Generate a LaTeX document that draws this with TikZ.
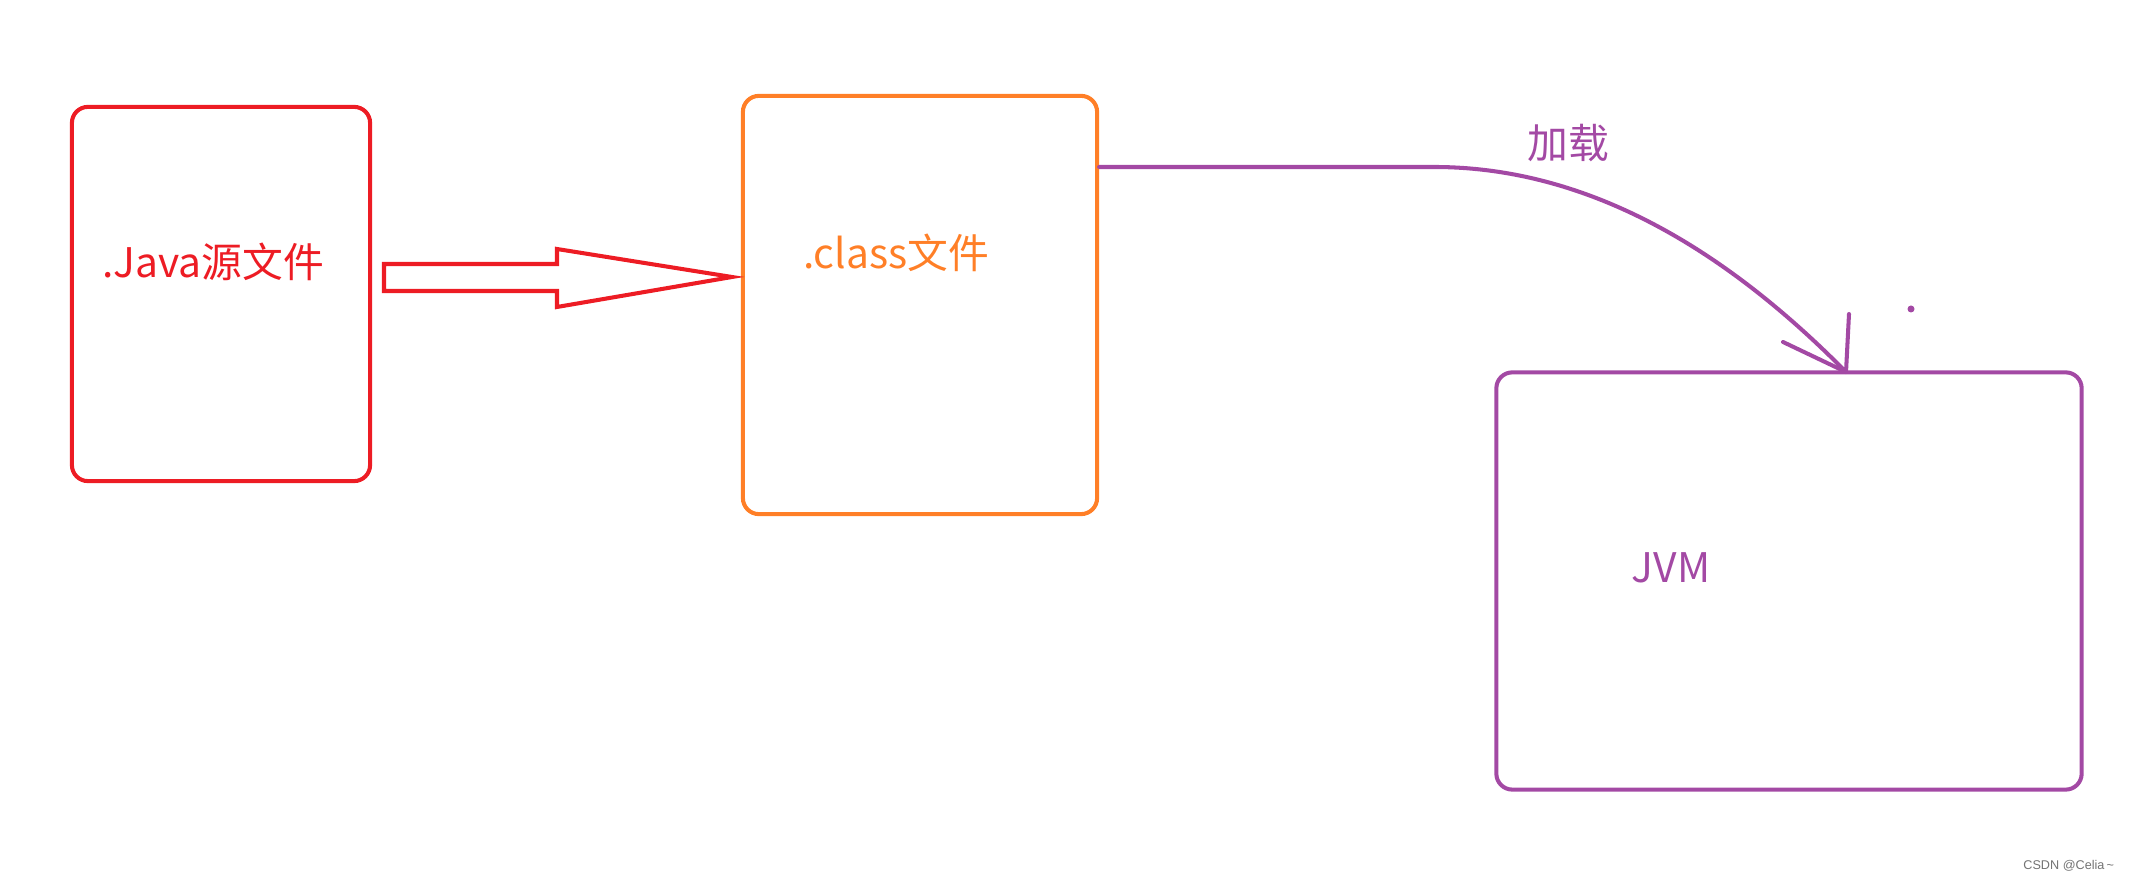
\documentclass[tikz,border=0pt]{standalone}
\usepackage{fontspec}
\setmainfont{Noto Sans CJK SC}
\newfontfamily\markfont{Liberation Sans}
\usepackage{tikz}

\definecolor{paintred}{HTML}{ED1C24}
\definecolor{paintorange}{HTML}{FF7F27}
\definecolor{paintpurple}{HTML}{A349A4}

\begin{document}
\begin{tikzpicture}[
x=0.01cm, y=-0.01cm, % one unit = one pixel of the screenshot, y runs downwards
line width=1.15pt,
every node/.style={font=\fontsize{11.6}{14}\selectfont, inner sep=0pt},
filebox/.style={draw, rounded corners=0.16cm},
loadline/.style={paintpurple, line cap=round}
]
\useasboundingbox (0,0) rectangle (2142,883);

% ================= Nodes =================

% Source file (left)
\node[filebox, draw=paintred, minimum width=2.98cm, minimum height=3.74cm] (javabox) at (221,294) {};
\node[text=paintred] (javatext) at (213,262) {.Java源文件};

% Class file (middle)
\node[filebox, draw=paintorange, minimum width=3.54cm, minimum height=4.18cm] (classbox) at (920,305) {};
\node[text=paintorange] (classtext) at (896,253) {.class文件};

% JVM (right)
\node[filebox, draw=paintpurple, minimum width=5.85cm, minimum height=4.17cm] (jvmbox) at (1789,581) {};
\node[text=paintpurple] (jvmtext) at (1671,568) {JVM};

% Label of the loading curve
\node[text=paintpurple] (loadtext) at (1568,143) {加载};

% Watermark
\node[anchor=east, text=black!55, font=\markfont\fontsize{3.6}{4}\selectfont] (mark) at (2116,866) {CSDN @Celia\,\textasciitilde};

% ================= Edges =================

% Hollow arrow: compile .java -> .class
\draw[paintred, line join=miter] (384,264) -- (557,264) -- (557,249) -- (732,277)
  -- (557,307) -- (557,291) -- (384,291) -- cycle;

% Loading curve: .class -> JVM
\coordinate (loadstart) at (classbox.east |- 0,167);
\coordinate (loadtip) at (1846,372);
\draw[loadline] (loadstart) -- (1434,167) .. controls (1610,167) and (1750,275) .. (loadtip);
\draw[loadline] (loadtip) -- (1783,342);
\draw[loadline] (loadtip) -- (1849,314);

% stray dot
\fill[paintpurple] (1911,309) circle (0.035cm);

\end{tikzpicture}
\end{document}
